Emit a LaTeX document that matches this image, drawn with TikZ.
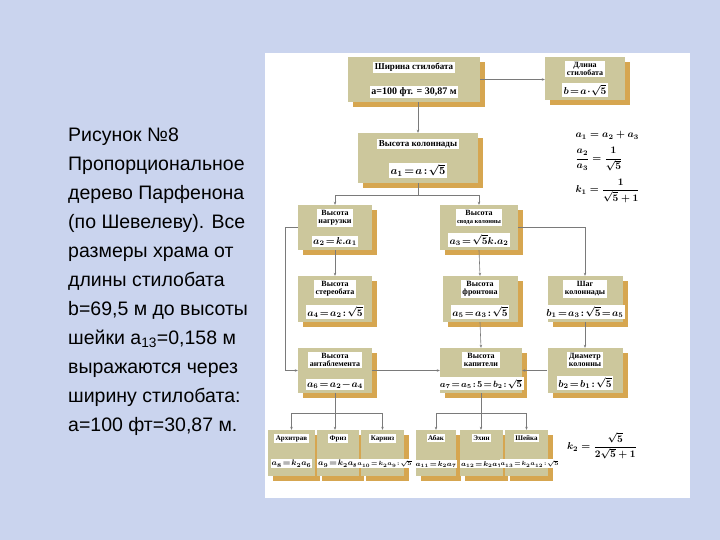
\documentclass[tikz,border=0pt]{standalone}
\usepackage{amsmath}
\usepackage{fontspec}
\setmainfont{Liberation Serif}
\newfontfamily\captionfont{Liberation Sans}
\usetikzlibrary{positioning, shadows, arrows.meta, calc}
\definecolor{pbg}{HTML}{CAD4EE}
\definecolor{pkhaki}{HTML}{CCC79C}
\definecolor{pgold}{HTML}{D6A650}
\definecolor{pline}{HTML}{7A7A7A}
\newcommand\tightmu{\thickmuskip=2mu\relax\medmuskip=1mu\relax}

\tikzset{
  pbox/.style={fill=pkhaki, general shadow={shadow xshift=5pt, shadow yshift=-5pt, fill=pgold}},
  ptitle/.style={fill=white, font=\fontsize{8}{8}\selectfont\bfseries, align=center, inner sep=1.5pt},
  pform/.style={fill=white, inner sep=1.5pt, font=\fontsize{10}{10}\selectfont\bfseries\boldmath\tightmu},
  psmall/.style={font=\fontsize{8}{8}\selectfont\bfseries\boldmath\tightmu, inner sep=1pt},
  conn/.style={draw=pline, line width=0.6pt, -{Stealth[length=3pt, width=2.5pt]}},
  plain/.style={draw=pline, line width=0.6pt},
}

\begin{document}
\begin{tikzpicture}[x=1pt, y=-1pt]
  \useasboundingbox (0,0) rectangle (720,540);
  \fill[pbg] (0,0) rectangle (720,540);
  \fill[white] (265,53) rectangle (690,498);

  % caption on the left
  \node[anchor=north west, align=left, inner sep=0pt,
        font=\captionfont\fontsize{19.5}{29}\selectfont] (caption) at (68,128)
        {Рисунок №8\\
         Пропорциональное\\
         дерево Парфенона\\
         (по Шевелеву). Все\\
         размеры храма от\\
         длины стилобата\\
         b=69,5 м до высоты\\
         шейки а\textsubscript{13}=0,158 м\\
         выражаются через\\
         ширину стилобата:\\
         а=100 фт=30,87 м.};

  % top row
  \node[pbox, minimum width=132, minimum height=45] (shir) at (414,79.5) {};
  \node[ptitle, font=\fontsize{9}{9}\selectfont\bfseries, below=5pt of shir.north] (shirT) {Ширина стилобата};
  \node[pform, above=4pt of shir.south] (shirF) {а=100 фт. = 30,87 м};

  \node[pbox, minimum width=80, minimum height=43] (dlin) at (585,78.5) {};
  \node[ptitle, below=4pt of dlin.north] (dlinT) {Длина\\стилобата};
  \node[pform, above=3pt of dlin.south] (dlinF) {$b = a\cdot\sqrt{5}$};

  \node[pbox, minimum width=120, minimum height=50] (kol) at (418,158) {};
  \node[ptitle, font=\fontsize{9}{9}\selectfont\bfseries, below=6pt of kol.north] (kolT) {Высота колоннады};
  \node[pform, font=\fontsize{11}{11}\selectfont\boldmath\tightmu, above=5pt of kol.south] (kolF) {$a_1 = a : \sqrt{5}$};

  \node[font=\fontsize{10}{11}\selectfont\boldmath, align=left, anchor=west] (kform) at (572,167)
        {$a_1 = a_2 + a_3$\\[7pt]
         $\dfrac{a_2}{a_3} = \dfrac{1}{\sqrt{5}}$\\[7pt]
         $k_1 = \dfrac{1}{\sqrt{5}+1}$};

  % second row
  \node[pbox, minimum width=74, minimum height=45] (nagr) at (335,227.5) {};
  \node[ptitle, below=4pt of nagr.north] (nagrT) {Высота\\нагрузки};
  \node[pform, above=3pt of nagr.south] (nagrF) {$a_2 = k.a_1$};

  \node[pbox, minimum width=78, minimum height=45] (svod) at (479,227.5) {};
  \node[ptitle, below=4pt of svod.north] (svodT) {Высота\\{\fontsize{6.5}{7}\selectfont свода колонны}};
  \node[pform, above=3pt of svod.south] (svodF) {$a_3 = \sqrt{5}k.a_2$};

  % third row
  \node[pbox, minimum width=74, minimum height=46] (ster) at (335,299) {};
  \node[ptitle, below=4pt of ster.north] (sterT) {Высота\\стереобата};
  \node[pform, above=3pt of ster.south] (sterF) {$a_4 = a_2 : \sqrt{5}$};

  \node[pbox, minimum width=75, minimum height=46] (front) at (480,299) {};
  \node[ptitle, below=4pt of front.north] (frontT) {Высота\\фронтона};
  \node[pform, above=3pt of front.south] (frontF) {$a_5 = a_3 : \sqrt{5}$};

  \node[pbox, minimum width=75, minimum height=46] (shag) at (585,299) {};
  \node[ptitle, below=4pt of shag.north] (shagT) {Шаг\\колоннады};
  \node[pform, above=3pt of shag.south] (shagF) {$b_1 = a_3 : \sqrt{5} = a_5$};

  % fourth row
  \node[pbox, minimum width=74, minimum height=45] (antab) at (335,370.5) {};
  \node[ptitle, below=4pt of antab.north] (antabT) {Высота\\антаблемента};
  \node[pform, above=3pt of antab.south] (antabF) {$a_6 = a_2 - a_4$};

  \node[pbox, minimum width=82, minimum height=45] (kap) at (481,370.5) {};
  \node[ptitle, below=4pt of kap.north] (kapT) {Высота\\капители};
  \node[pform, font=\fontsize{9}{9}\selectfont\boldmath\tightmu,
        above=3pt of kap.south] (kapF) {$a_7 = a_5 : 5 = b_2 : \sqrt{5}$};

  \node[pbox, minimum width=75, minimum height=45] (diam) at (585,370.5) {};
  \node[ptitle, below=4pt of diam.north] (diamT) {Диаметр\\колонны};
  \node[pform, above=3pt of diam.south] (diamF) {$b_2 = b_1 : \sqrt{5}$};

  % bottom row
  \node[pbox, minimum width=47, minimum height=46] (arh) at (291.5,453) {};
  \node[ptitle, font=\fontsize{7}{7}\selectfont\bfseries, below=4pt of arh.north] (arhT) {Архитрав};
  \node[pform, psmall, font=\fontsize{8.5}{9}\selectfont\boldmath\tightmu,
        above=8pt of arh.south] (arhF) {$a_8 = k_2 a_6$};

  \node[pbox, minimum width=42, minimum height=46] (friz) at (338,453) {};
  \node[ptitle, font=\fontsize{7}{7}\selectfont\bfseries, below=4pt of friz.north] (frizT) {Фриз};
  \node[pform, psmall, above=8pt of friz.south] (frizF) {$a_9 = k_2 a_8$};

  \node[pbox, minimum width=43, minimum height=46] (karn) at (382.5,453) {};
  \node[ptitle, font=\fontsize{7}{7}\selectfont\bfseries, below=4pt of karn.north] (karnT) {Карниз};
  \node[pform, psmall, font=\fontsize{6.5}{7}\selectfont\boldmath\tightmu,
        above=8pt of karn.south, xshift=2pt] (karnF) {$a_{10} = k_2 a_9 : \sqrt{5}$};

  \node[pbox, minimum width=40, minimum height=46] (abak) at (436,453) {};
  \node[ptitle, font=\fontsize{7}{7}\selectfont\bfseries, below=4pt of abak.north] (abakT) {Абак};
  \node[pform, psmall, font=\fontsize{7.5}{8}\selectfont\boldmath\tightmu,
        above=8pt of abak.south] (abakF) {$a_{11} = k_2 a_7$};

  \node[pbox, minimum width=43, minimum height=46] (ehin) at (481.5,453) {};
  \node[ptitle, font=\fontsize{7}{7}\selectfont\bfseries, below=4pt of ehin.north] (ehinT) {Эхин};
  \node[pform, psmall, font=\fontsize{7.5}{8}\selectfont\boldmath\tightmu,
        above=8pt of ehin.south] (ehinF) {$a_{12} = k_2 a_7$};

  \node[pbox, minimum width=43, minimum height=46] (shei) at (526.5,453) {};
  \node[ptitle, font=\fontsize{7}{7}\selectfont\bfseries, below=4pt of shei.north] (sheiT) {Шейка};
  \node[pform, psmall, font=\fontsize{6.5}{7}\selectfont\boldmath\tightmu,
        above=8pt of shei.south, xshift=3pt] (sheiF) {$a_{13} = k_2 a_{12} : \sqrt{5}$};

  \node[font=\fontsize{10}{11}\selectfont\boldmath] (kform2) at (602,446)
        {$k_2 = \dfrac{\sqrt{5}}{2\sqrt{5}+1}$};

  % connectors
  \draw[conn] (shir.east) -- (shir.east -| dlin.west);
  \draw[conn] (shir.south -| kol.north) -- (kol.north);
  \coordinate (kolJ) at ($(kol.south)+(0,12)$);
  \draw[plain] (kol.south) -- (kolJ);
  \draw[conn] (kolJ) -| (nagr.north);
  \draw[conn] (kolJ) -| (svod.north);
  \draw[conn] (svod.east) -| (shag.north);
  \draw[conn] (nagr.west) -- ++(-13,0) |- (antab.west);
  \draw[conn] (nagr.south) -- (ster.north);
  \draw[conn] (svod.south) -- (front.north);
  \draw[conn] (front.south) -- (kap.north);
  \draw[conn] (shag.south) -- (diam.north);
  \draw[conn] (antab.east) -- (kap.west);
  \draw[conn] (diam.west) -- (kap.east);

  \coordinate (antJ) at ($(antab.south)+(0,20)$);
  \draw[conn] (antab.south) -- (antab.south |- friz.north);
  \draw[conn] (antJ) -| (arh.north);
  \draw[conn] (antJ) -| (karn.north);
  \coordinate (kapJ) at ($(kap.south)+(0,20)$);
  \draw[conn] (kap.south) -- (kap.south |- ehin.north);
  \draw[conn] (kapJ) -| (abak.north);
  \draw[conn] (kapJ) -| (shei.north);
\end{tikzpicture}
\end{document}
